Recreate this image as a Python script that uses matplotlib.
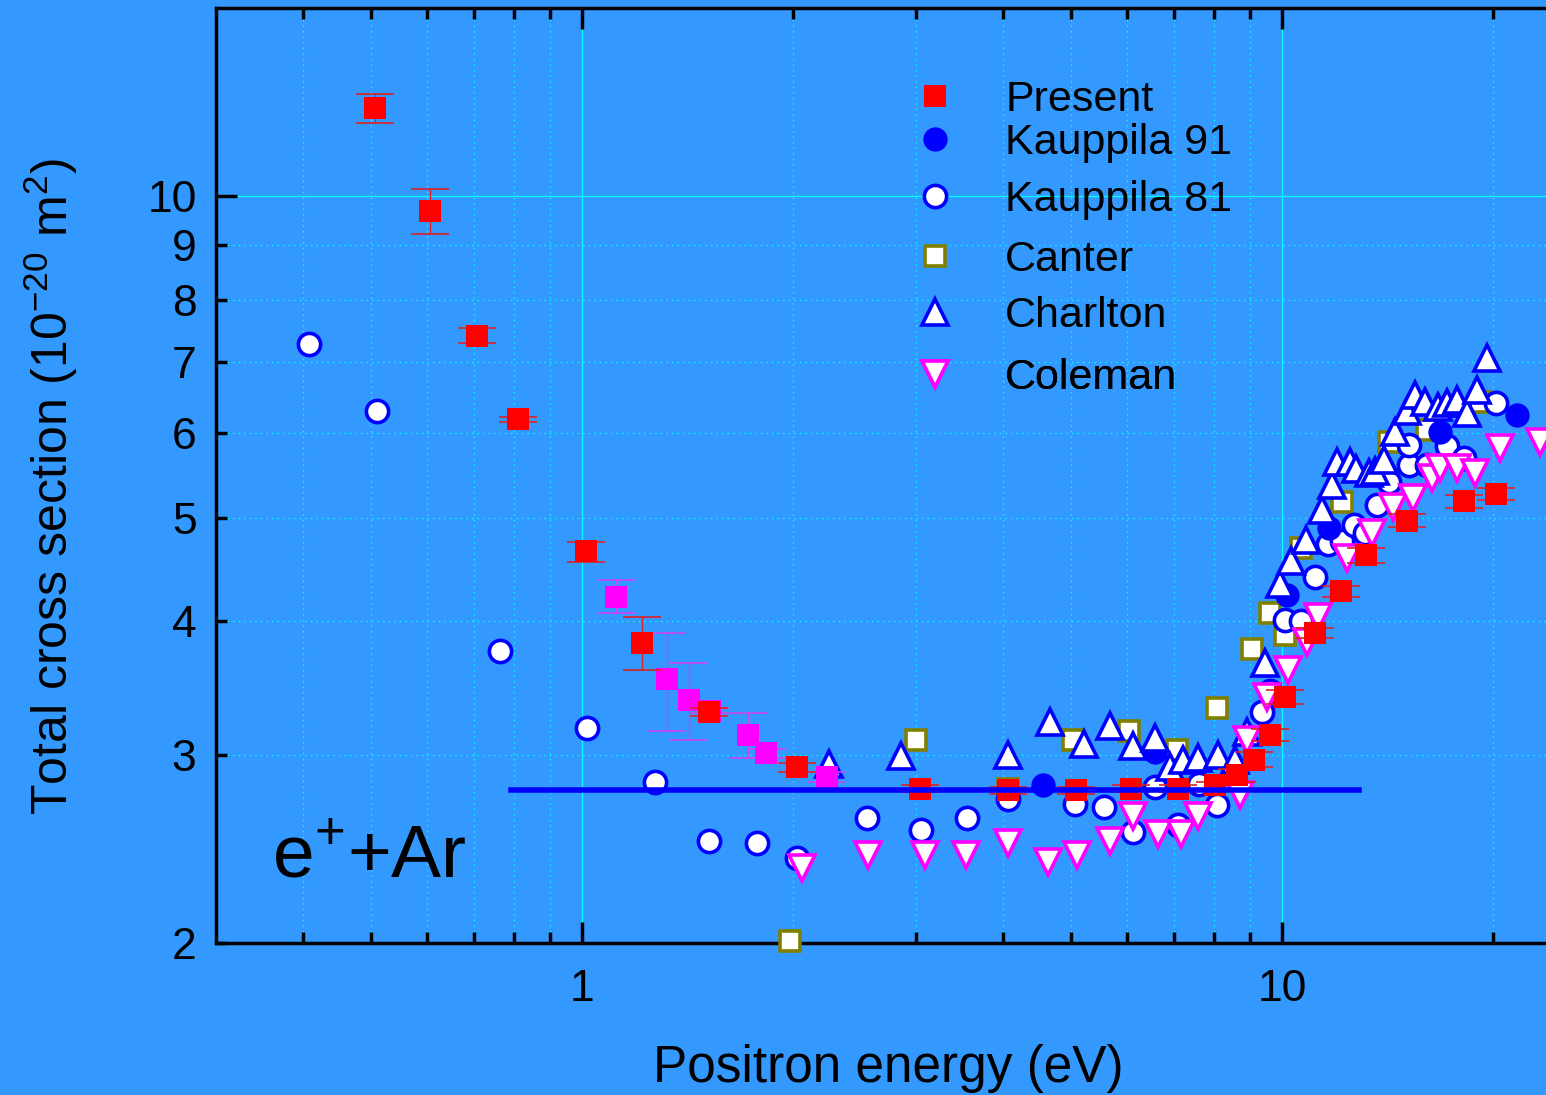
import matplotlib.pyplot as plt
from matplotlib.ticker import FixedLocator, FixedFormatter, NullFormatter
from matplotlib.lines import Line2D

plt.rcParams['font.family'] = ['Liberation Sans', 'DejaVu Sans']
plt.rcParams['mathtext.fontset'] = 'custom'
plt.rcParams['mathtext.rm'] = 'Liberation Sans'

bg = '#3399ff'

# Present (red squares, with error bars)
present_e = [0.506, 0.607, 0.708, 0.810, 1.013, 1.218, 1.52, 2.03, 3.04, 4.06, 5.08,
             6.08, 7.10, 8.02, 8.62, 9.12, 9.61, 10.1, 11.14, 12.14, 13.2, 15.1, 18.2, 20.2]
present_cs = [12.09, 9.68, 7.40, 6.18, 4.65, 3.82, 3.29, 2.92, 2.79, 2.78, 2.78,
              2.79, 2.79, 2.81, 2.87, 2.97, 3.13, 3.40, 3.90, 4.27, 4.61, 4.97, 5.18, 5.26]
present_err = [0.37, 0.47, 0.12, 0.03, 0.10, 0.22, 0.03, 0.03, 0.02, 0.02, 0.02,
               0.02, 0.02, 0.02, 0.04, 0.05, 0.04, 0.05, 0.04, 0.05, 0.07, 0.07, 0.07, 0.07]

# Present, second run (magenta squares)
present2_e = [1.118, 1.322, 1.422, 1.523, 1.727, 1.83, 2.24]
present2_cs = [4.22, 3.53, 3.38, 3.30, 3.13, 3.01, 2.86]
present2_err = [0.15, 0.37, 0.28, 0.02, 0.15, 0.03, 0.03]

# Kauppila 91 (filled blue circles)
k91_e = [4.56, 6.59, 10.16, 11.67, 16.8, 21.7]
k91_cs = [2.81, 3.02, 4.23, 4.89, 6.01, 6.24]

# Kauppila 81 (open circles)
k81_e = [0.407, 0.510, 0.764, 1.017, 1.27, 1.52, 1.78, 2.03, 2.55, 3.05, 3.55, 4.06,
         5.06, 5.57, 6.12, 6.59, 7.10, 7.62, 8.08, 9.36, 9.61, 10.1, 10.64, 11.14,
         11.64, 12.18, 12.68, 13.15, 13.68, 14.21, 15.2, 15.2, 16.1, 17.2, 18.2, 20.2]
k81_cs = [7.27, 6.30, 3.75, 3.18, 2.83, 2.49, 2.48, 2.40, 2.62, 2.55, 2.62, 2.73,
          2.70, 2.68, 2.54, 2.80, 2.58, 2.82, 2.69, 3.29, 3.44, 4.01, 4.00, 4.40,
          4.73, 4.76, 4.92, 4.84, 5.14, 5.40, 5.60, 5.85, 5.60, 5.84, 5.69, 6.40]

# Canter (open olive squares)
canter_e = [1.98, 3.0, 4.06, 5.03, 6.04, 7.08, 8.08, 9.07, 9.61, 10.1, 10.66,
            12.18, 14.2, 16.1, 19.2]
canter_cs = [2.01, 3.10, 2.79, 3.10, 3.16, 3.03, 3.32, 3.77, 4.07, 3.88, 4.69,
             5.17, 5.89, 6.04, 6.42]

# Charlton (open up triangles)
charlton_e = [2.25, 2.86, 4.06, 4.66, 5.21, 5.68, 6.12, 6.59, 6.92, 7.22, 7.59, 8.10,
              8.57, 8.92, 9.46, 9.94, 10.3, 10.83, 11.4, 11.77, 12.0, 12.5, 12.75,
              13.3, 13.6, 14.0, 14.5, 15.1, 15.5, 16.0, 16.7, 17.2, 17.8, 18.4, 19.0, 19.6]
charlton_cs = [2.94, 2.99, 3.00, 3.22, 3.07, 3.19, 3.06, 3.11, 2.92, 2.97, 2.98, 3.00,
               2.97, 3.15, 3.66, 4.34, 4.56, 4.77, 5.08, 5.37, 5.64, 5.64, 5.55,
               5.51, 5.53, 5.66, 6.01, 6.30, 6.52, 6.42, 6.35, 6.40, 6.44, 6.27, 6.58, 7.05]

# Coleman (open down triangles)
coleman_e = [2.06, 2.56, 3.09, 3.54, 4.06, 4.63, 5.10, 5.68, 6.12, 6.65, 7.18, 7.59,
             8.71, 8.92, 9.51, 10.2, 10.87, 11.26, 12.4, 13.45, 14.4, 15.4, 16.4,
             16.8, 17.8, 18.9, 20.5, 23.4]
coleman_cs = [2.35, 2.42, 2.42, 2.42, 2.48, 2.38, 2.42, 2.49, 2.63, 2.53, 2.53, 2.63,
              2.75, 3.10, 3.40, 3.60, 3.83, 4.04, 4.59, 4.84, 5.12, 5.22, 5.45,
              5.57, 5.57, 5.51, 5.81, 5.89]

# horizontal reference line
line_e = [0.792, 12.9]
line_cs = [2.78, 2.78]

fig = plt.figure(figsize=(15.46, 10.95), dpi=100, facecolor=bg)
ax = fig.add_axes([0.1397, 0.1388, 0.8697, 0.8539], facecolor=bg)
ax.set_xscale('log')
ax.set_yscale('log')
ax.set_xlim(0.3, 25)
ax.set_ylim(2, 15)

ax.plot(canter_e, canter_cs, 's', ms=14.5, mfc='white', mec='#808000', mew=2.6,
        zorder=3, clip_on=False)
ax.plot(k81_e, k81_cs, 'o', ms=16, mfc='white', mec='#0000ff', mew=2.6, zorder=3)
ax.plot(k91_e, k91_cs, 'o', ms=17.5, mfc='#0000ff', mec='#0000ff', mew=0, zorder=4)
ax.plot(charlton_e, charlton_cs, '^', ms=18.5, mfc='white', mec='#0000ff', mew=2.6, zorder=5)
ax.plot(coleman_e, coleman_cs, 'v', ms=18.5, mfc='white', mec='#ff00ff', mew=2.6, zorder=6)

# error bars first, squares on top
ax.errorbar(present2_e, present2_cs, yerr=present2_err, fmt='none', ecolor='#cc44ee',
            elinewidth=1.0, capsize=14, capthick=1.2, zorder=7)
ax.plot(present2_e, present2_cs, 's', ms=16, color='#ff00ff', mew=0, zorder=7.5)
ax.errorbar(present_e, present_cs, yerr=present_err, fmt='none', ecolor='#dd2222',
            elinewidth=1.0, capsize=14, capthick=1.2, zorder=8)
ax.plot(present_e, present_cs, 's', ms=16, color='#ff0000', mew=0, zorder=8.5)

ax.plot(line_e, line_cs, '-', color='#0000ff', lw=4, zorder=9)

# axes styling
for s in ax.spines.values():
    s.set_linewidth(2.5)
    s.set_color('black')

ax.xaxis.set_major_locator(FixedLocator([1, 10]))
ax.xaxis.set_major_formatter(FixedFormatter(['1', '10']))
ax.xaxis.set_minor_locator(FixedLocator([0.4, 0.5, 0.6, 0.7, 0.8, 0.9,
                                         2, 3, 4, 5, 6, 7, 8, 9, 20]))
ax.xaxis.set_minor_formatter(NullFormatter())

ax.yaxis.set_major_locator(FixedLocator([10]))
ax.yaxis.set_major_formatter(FixedFormatter(['10']))
ax.yaxis.set_minor_locator(FixedLocator([2, 3, 4, 5, 6, 7, 8, 9]))
ax.yaxis.set_minor_formatter(FixedFormatter(['2', '3', '4', '5', '6', '7', '8', '9']))

ax.tick_params(which='both', direction='in', top=True, right=False, width=2.5,
               colors='black', labelsize=32)
ax.tick_params(which='major', length=15)
ax.tick_params(which='minor', length=8)
ax.tick_params(axis='x', which='both', pad=19)
ax.tick_params(axis='y', which='both', pad=14)

ax.grid(which='major', color='#00ffff', lw=1, ls='-')
ax.grid(which='minor', color='#00ffff', lw=1, ls=(0, (1, 3)))
ax.set_axisbelow(True)

ax.set_xlabel('Positron energy (eV)', fontsize=37, labelpad=24)
ax.set_ylabel('Total cross section (10$^{-20}$ m$^{2}$)', fontsize=36)
ax.yaxis.set_label_coords(-0.101, 0.4877)

ax.text(0.042, 0.0695, 'e$^{+}$+Ar', transform=ax.transAxes, fontsize=54, va='baseline')

# legend, one row per entry (rows are unevenly spaced in the original)
handles = [
    Line2D([], [], ls='none', marker='s', ms=16, mfc='#ff0000', mec='#ff0000', mew=0),
    Line2D([], [], ls='none', marker='o', ms=17.5, mfc='#0000ff', mec='#0000ff', mew=0),
    Line2D([], [], ls='none', marker='o', ms=16, mfc='white', mec='#0000ff', mew=2.6),
    Line2D([], [], ls='none', marker='s', ms=14.5, mfc='white', mec='#808000', mew=2.6),
    Line2D([], [], ls='none', marker='^', ms=18.5, mfc='white', mec='#0000ff', mew=2.6),
    Line2D([], [], ls='none', marker='v', ms=18.5, mfc='white', mec='#ff00ff', mew=2.6),
]
labels = ['Present', 'Kauppila 91', 'Kauppila 81', 'Canter', 'Charlton', 'Coleman']
row_px = [100, 143, 200, 260, 316, 378]
for h, lab, py in zip(handles, labels, row_px):
    yfrac = (943 - py) / 935
    leg = ax.legend([h], [lab], loc='center left', bbox_to_anchor=(0.5187, yfrac),
                    frameon=False, fontsize=31, handlelength=1.0, handletextpad=1.13,
                    borderpad=0, borderaxespad=0)
    ax.add_artist(leg)

fig.savefig('out.png', dpi=100, facecolor=bg)
